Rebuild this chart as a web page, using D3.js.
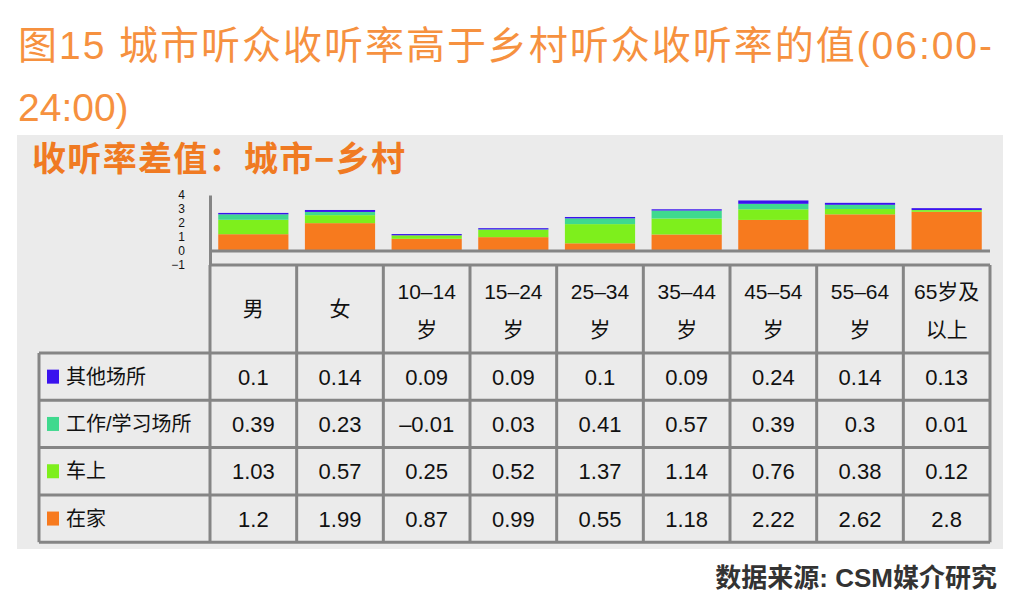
<!DOCTYPE html>
<html>
<head>
<meta charset="utf-8" />
<title>图15</title>
<script src="https://d3js.org/d3.v7.min.js"></script>
<style>
  body { margin: 0; background: #fff; }
  text { font-family: "Liberation Sans", "Noto Sans CJK SC", sans-serif; }
</style>
</head>
<body>
<svg class="chart"></svg>
<script>
var categories = ["男", "女", "10-14岁", "15-24岁", "25-34岁", "35-44岁", "45-54岁", "55-64岁", "65岁及以上"];
var headerLines = [["男"], ["女"], ["10–14", "岁"], ["15–24", "岁"], ["25–34", "岁"], ["35–44", "岁"], ["45–54", "岁"], ["55–64", "岁"], ["65岁及", "以上"]];
var seriesNames = ["其他场所", "工作/学习场所", "车上", "在家"];
var other = [0.1, 0.14, 0.09, 0.09, 0.1, 0.09, 0.24, 0.14, 0.13];
var work = [0.39, 0.23, -0.01, 0.03, 0.41, 0.57, 0.39, 0.3, 0.01];
var car = [1.03, 0.57, 0.25, 0.52, 1.37, 1.14, 0.76, 0.38, 0.12];
var home = [1.2, 1.99, 0.87, 0.99, 0.55, 1.18, 2.22, 2.62, 2.8];
var valueLabels = [
  ["0.1", "0.14", "0.09", "0.09", "0.1", "0.09", "0.24", "0.14", "0.13"],
  ["0.39", "0.23", "–0.01", "0.03", "0.41", "0.57", "0.39", "0.3", "0.01"],
  ["1.03", "0.57", "0.25", "0.52", "1.37", "1.14", "0.76", "0.38", "0.12"],
  ["1.2", "1.99", "0.87", "0.99", "0.55", "1.18", "2.22", "2.62", "2.8"]
];
var yTicks = [-1, 0, 1, 2, 3, 4];

var colors = {"在家": "#F77A1E", "车上": "#7EEF1C", "工作/学习场所": "#3FD98E", "其他场所": "#3A12EE"};
var lineColor = "#858585";

var svg = d3.select(".chart").attr("width", 1024).attr("height", 608);

// title
svg.append("text").attr("x", 18).attr("y", 59)
  .attr("font-size", 39).attr("fill", "#F6913F")
  .attr("textLength", 974).attr("lengthAdjust", "spacing")
  .text("图15 城市听众收听率高于乡村听众收听率的值(06:00-");
svg.append("text").attr("x", 18).attr("y", 121)
  .attr("font-size", 39).attr("fill", "#F6913F")
  .text("24:00)");

// grey panel
svg.append("rect").attr("x", 17).attr("y", 135).attr("width", 986).attr("height", 414).attr("fill", "#EBEBEB");

svg.append("text").attr("x", 32).attr("y", 171)
  .attr("font-size", 34).attr("font-weight", "bold").attr("fill", "#F07A22")
  .attr("textLength", 373).attr("lengthAdjust", "spacing")
  .text("收听率差值：城市−乡村");

// scales
var left = 210, right = 990;
var col = d3.scaleBand().domain(categories).range([left, right]);
var x = d3.scaleBand().domain(categories).range([left, right]).paddingInner(0.19).paddingOuter(0.095);
var y = d3.scaleLinear().domain([-1, 4]).range([265, 195]);

var rows = categories.map(function (c, i) {
  return {cat: c, "其他场所": other[i], "工作/学习场所": work[i], "车上": car[i], "在家": home[i]};
});
var stack = d3.stack().keys(["在家", "车上", "工作/学习场所", "其他场所"]).offset(d3.stackOffsetDiverging);
var layers = stack(rows);

svg.append("g").selectAll("g").data(layers).join("g")
  .attr("fill", function (d) { return colors[d.key]; })
  .selectAll("rect").data(function (d) { return d; }).join("rect")
    .attr("x", function (d) { return x(d.data.cat); })
    .attr("width", x.bandwidth())
    .attr("y", function (d) { return y(Math.max(d[0], d[1])); })
    .attr("height", function (d) { return Math.abs(y(d[0]) - y(d[1])); });

// zero line and y axis
svg.append("line").attr("x1", left).attr("x2", right).attr("y1", y(0)).attr("y2", y(0))
  .attr("stroke", lineColor).attr("stroke-width", 3);

var yAxis = svg.append("g").attr("transform", "translate(" + left + ",0)")
  .call(d3.axisLeft(y).tickValues(yTicks).tickSize(0).tickPadding(25).tickFormat(d3.format("d")));
yAxis.select(".domain").attr("stroke", lineColor).attr("stroke-width", 3);
yAxis.selectAll("text").attr("font-size", 12).attr("fill", "#111")
  .attr("font-family", "Liberation Sans, sans-serif");

// table
var headTop = 265, headBottom = 353, rowH = 47.3, tableLeft = 39;
var tableBottom = headBottom + rowH * 4;
var tbl = svg.append("g").attr("stroke", lineColor).attr("stroke-width", 3);
tbl.append("line").attr("x1", left).attr("x2", right).attr("y1", headTop).attr("y2", headTop);
d3.range(5).forEach(function (r) {
  var yy = headBottom + r * rowH;
  tbl.append("line").attr("x1", tableLeft).attr("x2", right).attr("y1", yy).attr("y2", yy);
});
tbl.append("line").attr("x1", tableLeft).attr("x2", tableLeft).attr("y1", headBottom).attr("y2", tableBottom);
categories.forEach(function (c) {
  tbl.append("line").attr("x1", col(c)).attr("x2", col(c)).attr("y1", headTop).attr("y2", tableBottom);
});
tbl.append("line").attr("x1", right).attr("x2", right).attr("y1", headTop).attr("y2", tableBottom);

// header text
categories.forEach(function (c, i) {
  var cx = col(c) + col.bandwidth() / 2;
  var lines = headerLines[i];
  var t = svg.append("text").attr("text-anchor", "middle").attr("font-size", 21).attr("fill", "#111");
  if (lines.length === 1) {
    t.attr("x", cx).attr("y", 316).text(lines[0]);
  } else {
    t.append("tspan").attr("x", cx).attr("y", 299).text(lines[0]);
    t.append("tspan").attr("x", cx).attr("y", 337).text(lines[1]);
  }
});

// legend + values
seriesNames.forEach(function (s, r) {
  var cy = headBottom + r * rowH + rowH / 2;
  svg.append("rect").attr("x", 47).attr("y", cy - 7).attr("width", 12).attr("height", 14).attr("fill", colors[s]);
  svg.append("text").attr("x", 66).attr("y", cy + 7).attr("font-size", 20).attr("fill", "#111").text(s);
  categories.forEach(function (c, i) {
    svg.append("text").attr("x", col(c) + col.bandwidth() / 2).attr("y", cy + 8)
      .attr("text-anchor", "middle").attr("font-size", 22).attr("fill", "#111")
      .text(valueLabels[r][i]);
  });
});

// source
svg.append("text").attr("x", 997).attr("y", 587).attr("text-anchor", "end")
  .attr("font-size", 26).attr("font-weight", "bold").attr("fill", "#333")
  .text("数据来源: CSM媒介研究");
</script>
</body>
</html>
